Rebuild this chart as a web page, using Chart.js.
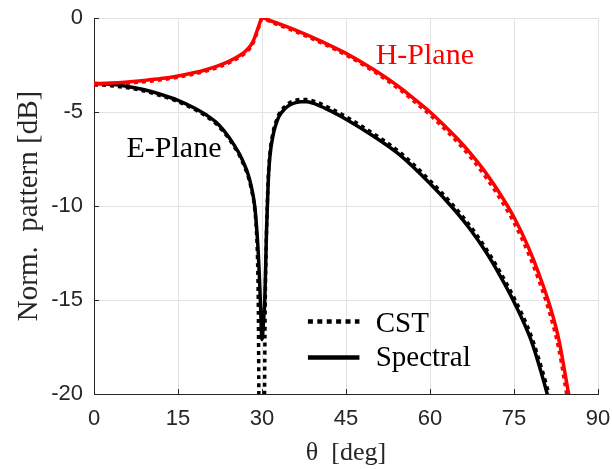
<!DOCTYPE html>
<html>
<head>
<meta charset="utf-8">
<script src="https://cdn.jsdelivr.net/npm/chart.js@4.4.0/dist/chart.umd.min.js"></script>
<style>
html,body{margin:0;padding:0;background:#ffffff;}
#wrap{width:612px;height:469px;position:relative;}
</style>
</head>
<body>
<div id="wrap"><canvas id="c" width="612" height="469"></canvas></div>
<script>
// ---- tick labels / axis labels ----
const xTicks = [0, 15, 30, 45, 60, 75, 90];
const yTicks = [-20, -15, -10, -5, 0];
const xLabel = 'θ  [deg]';
const yLabel = 'Norm.  pattern [dB]';
const seriesNames = ['CST', 'Spectral'];
const planeNames = ['H-Plane', 'E-Plane'];

// ---- H-plane (red) ----
const thetaH = [0, 3, 6, 9, 12, 15, 18, 20, 22, 24, 26, 27, 28, 28.5, 29, 29.5, 30, 32, 35, 38, 41, 45, 50, 53.5, 55, 57.5, 60, 62.5, 65, 67.5, 70, 72.5, 75, 77.5, 79.5, 81.5, 83, 84.7, 85.2];
const hSpectral = [-3.49, -3.46, -3.40, -3.32, -3.22, -3.08, -2.90, -2.75, -2.56, -2.32, -2.00, -1.78, -1.45, -1.18, -0.78, -0.35, 0, -0.20, -0.53, -0.90, -1.30, -1.88, -2.75, -3.45, -3.78, -4.38, -5.00, -5.70, -6.45, -7.30, -8.25, -9.35, -10.60, -12.15, -13.65, -15.40, -17.10, -19.90, -20.70];
const hCST = [-3.56, -3.53, -3.47, -3.39, -3.29, -3.15, -2.97, -2.82, -2.63, -2.40, -2.08, -1.87, -1.55, -1.28, -0.88, -0.42, -0.04, -0.27, -0.60, -0.98, -1.38, -1.97, -2.85, -3.57, -3.90, -4.52, -5.15, -5.87, -6.63, -7.50, -8.48, -9.60, -10.88, -12.47, -14.00, -15.82, -17.60, -20.50, -21.30];

// ---- E-plane (black) ----
const thetaESpectral = [0, 3, 6, 9, 12, 15, 18, 20, 22, 24, 25, 26, 27, 27.5, 28, 28.7, 29, 29.3, 29.5, 29.7, 30, 30.3, 30.5, 30.8, 31.1, 31.4, 32, 32.5, 33, 34, 35, 36, 37, 38, 40, 42.5, 45, 50, 54.6, 60, 64, 67, 70, 72.5, 75, 78, 80, 81, 81.5];
const eSpectral = [-3.49, -3.53, -3.64, -3.82, -4.07, -4.38, -4.80, -5.15, -5.60, -6.30, -6.75, -7.25, -7.90, -8.30, -8.85, -10.00, -11.00, -12.30, -13.50, -15.00, -17.10, -16.00, -15.00, -11.40, -8.80, -7.40, -6.20, -5.65, -5.25, -4.85, -4.62, -4.50, -4.45, -4.46, -4.63, -4.98, -5.38, -6.30, -7.28, -8.80, -10.08, -11.17, -12.45, -13.70, -15.10, -17.10, -19.00, -20.07, -20.60];
const thetaECST = [0, 3, 6, 9, 12, 15, 18, 20, 22, 24, 25, 26, 27, 27.5, 28, 28.7, 29, 29.2, 29.35, 29.45, 29.6, 30.35, 30.45, 30.55, 30.7, 30.9, 31.1, 31.4, 32, 32.5, 33, 34, 35, 36, 37, 38, 40, 42.5, 45, 50, 54.6, 60, 64, 67, 70, 72.5, 75, 78, 80, 81, 81.5, 82];
const eCST = [-3.55, -3.60, -3.71, -3.89, -4.14, -4.45, -4.87, -5.22, -5.68, -6.38, -6.83, -7.33, -8.00, -8.40, -8.97, -10.15, -11.30, -12.80, -15.50, -20.50, -26.00, -26.00, -20.50, -16.00, -12.80, -10.40, -8.60, -7.25, -6.05, -5.52, -5.13, -4.73, -4.50, -4.38, -4.33, -4.34, -4.50, -4.85, -5.25, -6.17, -7.14, -8.65, -9.92, -11.00, -12.27, -13.50, -14.88, -16.85, -18.70, -19.75, -20.30, -20.90];

const RED = '#ff0000';
const BLACK = '#000000';
const AXIS = '#262626';
const GRID = '#e2e2e2';
const SERIF = '"Liberation Serif", "Times New Roman", serif';
const SANS = '"Liberation Sans", Arial, sans-serif';

function pts(xs, ys) { return xs.map((x, i) => ({x: x, y: ys[i]})); }

function lineSet(label, xs, ys, color, dotted) {
  return {
    label: label,
    data: pts(xs, ys),
    borderColor: color,
    backgroundColor: color,
    borderWidth: 3.5,
    borderDash: dotted ? [4, 4] : [],
    borderCapStyle: 'butt',
    pointRadius: 0,
    fill: false,
    cubicInterpolationMode: 'monotone',
    order: dotted ? 1 : 0
  };
}

const inwardTicks = {
  id: 'inwardTicks',
  afterDatasetsDraw(chart) {
    const {ctx, chartArea: a, scales: {x, y}} = chart;
    ctx.save();
    ctx.strokeStyle = AXIS;
    ctx.lineWidth = 1;
    ctx.beginPath();
    xTicks.forEach(v => {
      const px = Math.round(x.getPixelForValue(v)) + 0.5;
      ctx.moveTo(px, a.bottom); ctx.lineTo(px, a.bottom - 5);
    });
    yTicks.forEach(v => {
      const py = Math.round(y.getPixelForValue(v)) + 0.5;
      ctx.moveTo(a.left, py); ctx.lineTo(a.left + 5, py);
    });
    ctx.stroke();
    ctx.restore();
  }
};

const annotations = {
  id: 'annotations',
  afterDatasetsDraw(chart) {
    const {ctx, scales: {x, y}} = chart;
    ctx.save();
    ctx.font = '30px ' + SERIF;
    ctx.textAlign = 'left';
    ctx.textBaseline = 'alphabetic';
    // plane labels
    ctx.fillStyle = RED;
    ctx.fillText(planeNames[0], x.getPixelForValue(50.3), y.getPixelForValue(-2.43));
    ctx.fillStyle = BLACK;
    ctx.fillText(planeNames[1], x.getPixelForValue(5.8), y.getPixelForValue(-7.39));
    // legend
    const x0 = x.getPixelForValue(38.2), x1 = x.getPixelForValue(47.4);
    const yC = y.getPixelForValue(-16.15), yS = y.getPixelForValue(-18.06);
    ctx.strokeStyle = BLACK;
    ctx.lineWidth = 4.5;
    ctx.lineCap = 'butt';
    ctx.setLineDash([5, 4.4]);
    ctx.beginPath(); ctx.moveTo(x0, yC); ctx.lineTo(x1, yC); ctx.stroke();
    ctx.setLineDash([]);
    ctx.beginPath(); ctx.moveTo(x0, yS); ctx.lineTo(x1, yS); ctx.stroke();
    ctx.fillStyle = BLACK;
    ctx.font = '29px ' + SERIF;
    const xt = x.getPixelForValue(50.3);
    ctx.fillText(seriesNames[0], xt, y.getPixelForValue(-16.70));
    ctx.fillText(seriesNames[1], xt, y.getPixelForValue(-18.53));
    ctx.restore();
  }
};

new Chart(document.getElementById('c'), {
  type: 'line',
  data: {
    datasets: [
      lineSet(planeNames[0] + ' ' + seriesNames[1], thetaH, hSpectral, RED, false),
      lineSet(planeNames[1] + ' ' + seriesNames[1], thetaESpectral, eSpectral, BLACK, false),
      lineSet(planeNames[0] + ' ' + seriesNames[0], thetaH, hCST, RED, true),
      lineSet(planeNames[1] + ' ' + seriesNames[0], thetaECST, eCST, BLACK, true)
    ]
  },
  options: {
    responsive: false,
    animation: false,
    devicePixelRatio: 1,
    layout: {padding: {top: 18, right: 14, left: 0, bottom: 0}},
    plugins: {legend: {display: false}, tooltip: {enabled: false}},
    scales: {
      x: {
        type: 'linear', min: 0, max: 90,
        afterBuildTicks: s => { s.ticks = xTicks.map(v => ({value: v})); },
        afterFit: s => { s.height = 75; s.paddingLeft = 0; s.paddingRight = 0; s.paddingTop = 0; s.paddingBottom = 0; },
        grid: {color: GRID, lineWidth: 1, drawTicks: false},
        border: {color: AXIS, width: 1},
        ticks: {padding: 12, color: AXIS, autoSkip: false, maxRotation: 0, font: {family: SANS, size: 22}},
        title: {display: true, text: xLabel, color: AXIS, font: {family: SERIF, size: 26, lineHeight: 1}, padding: {top: 0, bottom: 3}}
      },
      y: {
        type: 'linear', min: -20, max: 0,
        afterBuildTicks: s => { s.ticks = yTicks.map(v => ({value: v})); },
        afterFit: s => { s.width = 94; s.paddingLeft = 0; s.paddingRight = 0; s.paddingTop = 0; s.paddingBottom = 0; },
        grid: {color: GRID, lineWidth: 1, drawTicks: false},
        border: {color: AXIS, width: 1},
        ticks: {padding: 11, color: AXIS, autoSkip: false, font: {family: SANS, size: 22}},
        title: {display: true, text: yLabel, color: AXIS, font: {family: SERIF, size: 29, lineHeight: 1}, padding: {top: 14.5, bottom: 0}}
      }
    }
  },
  plugins: [inwardTicks, annotations]
});
</script>
</body>
</html>
